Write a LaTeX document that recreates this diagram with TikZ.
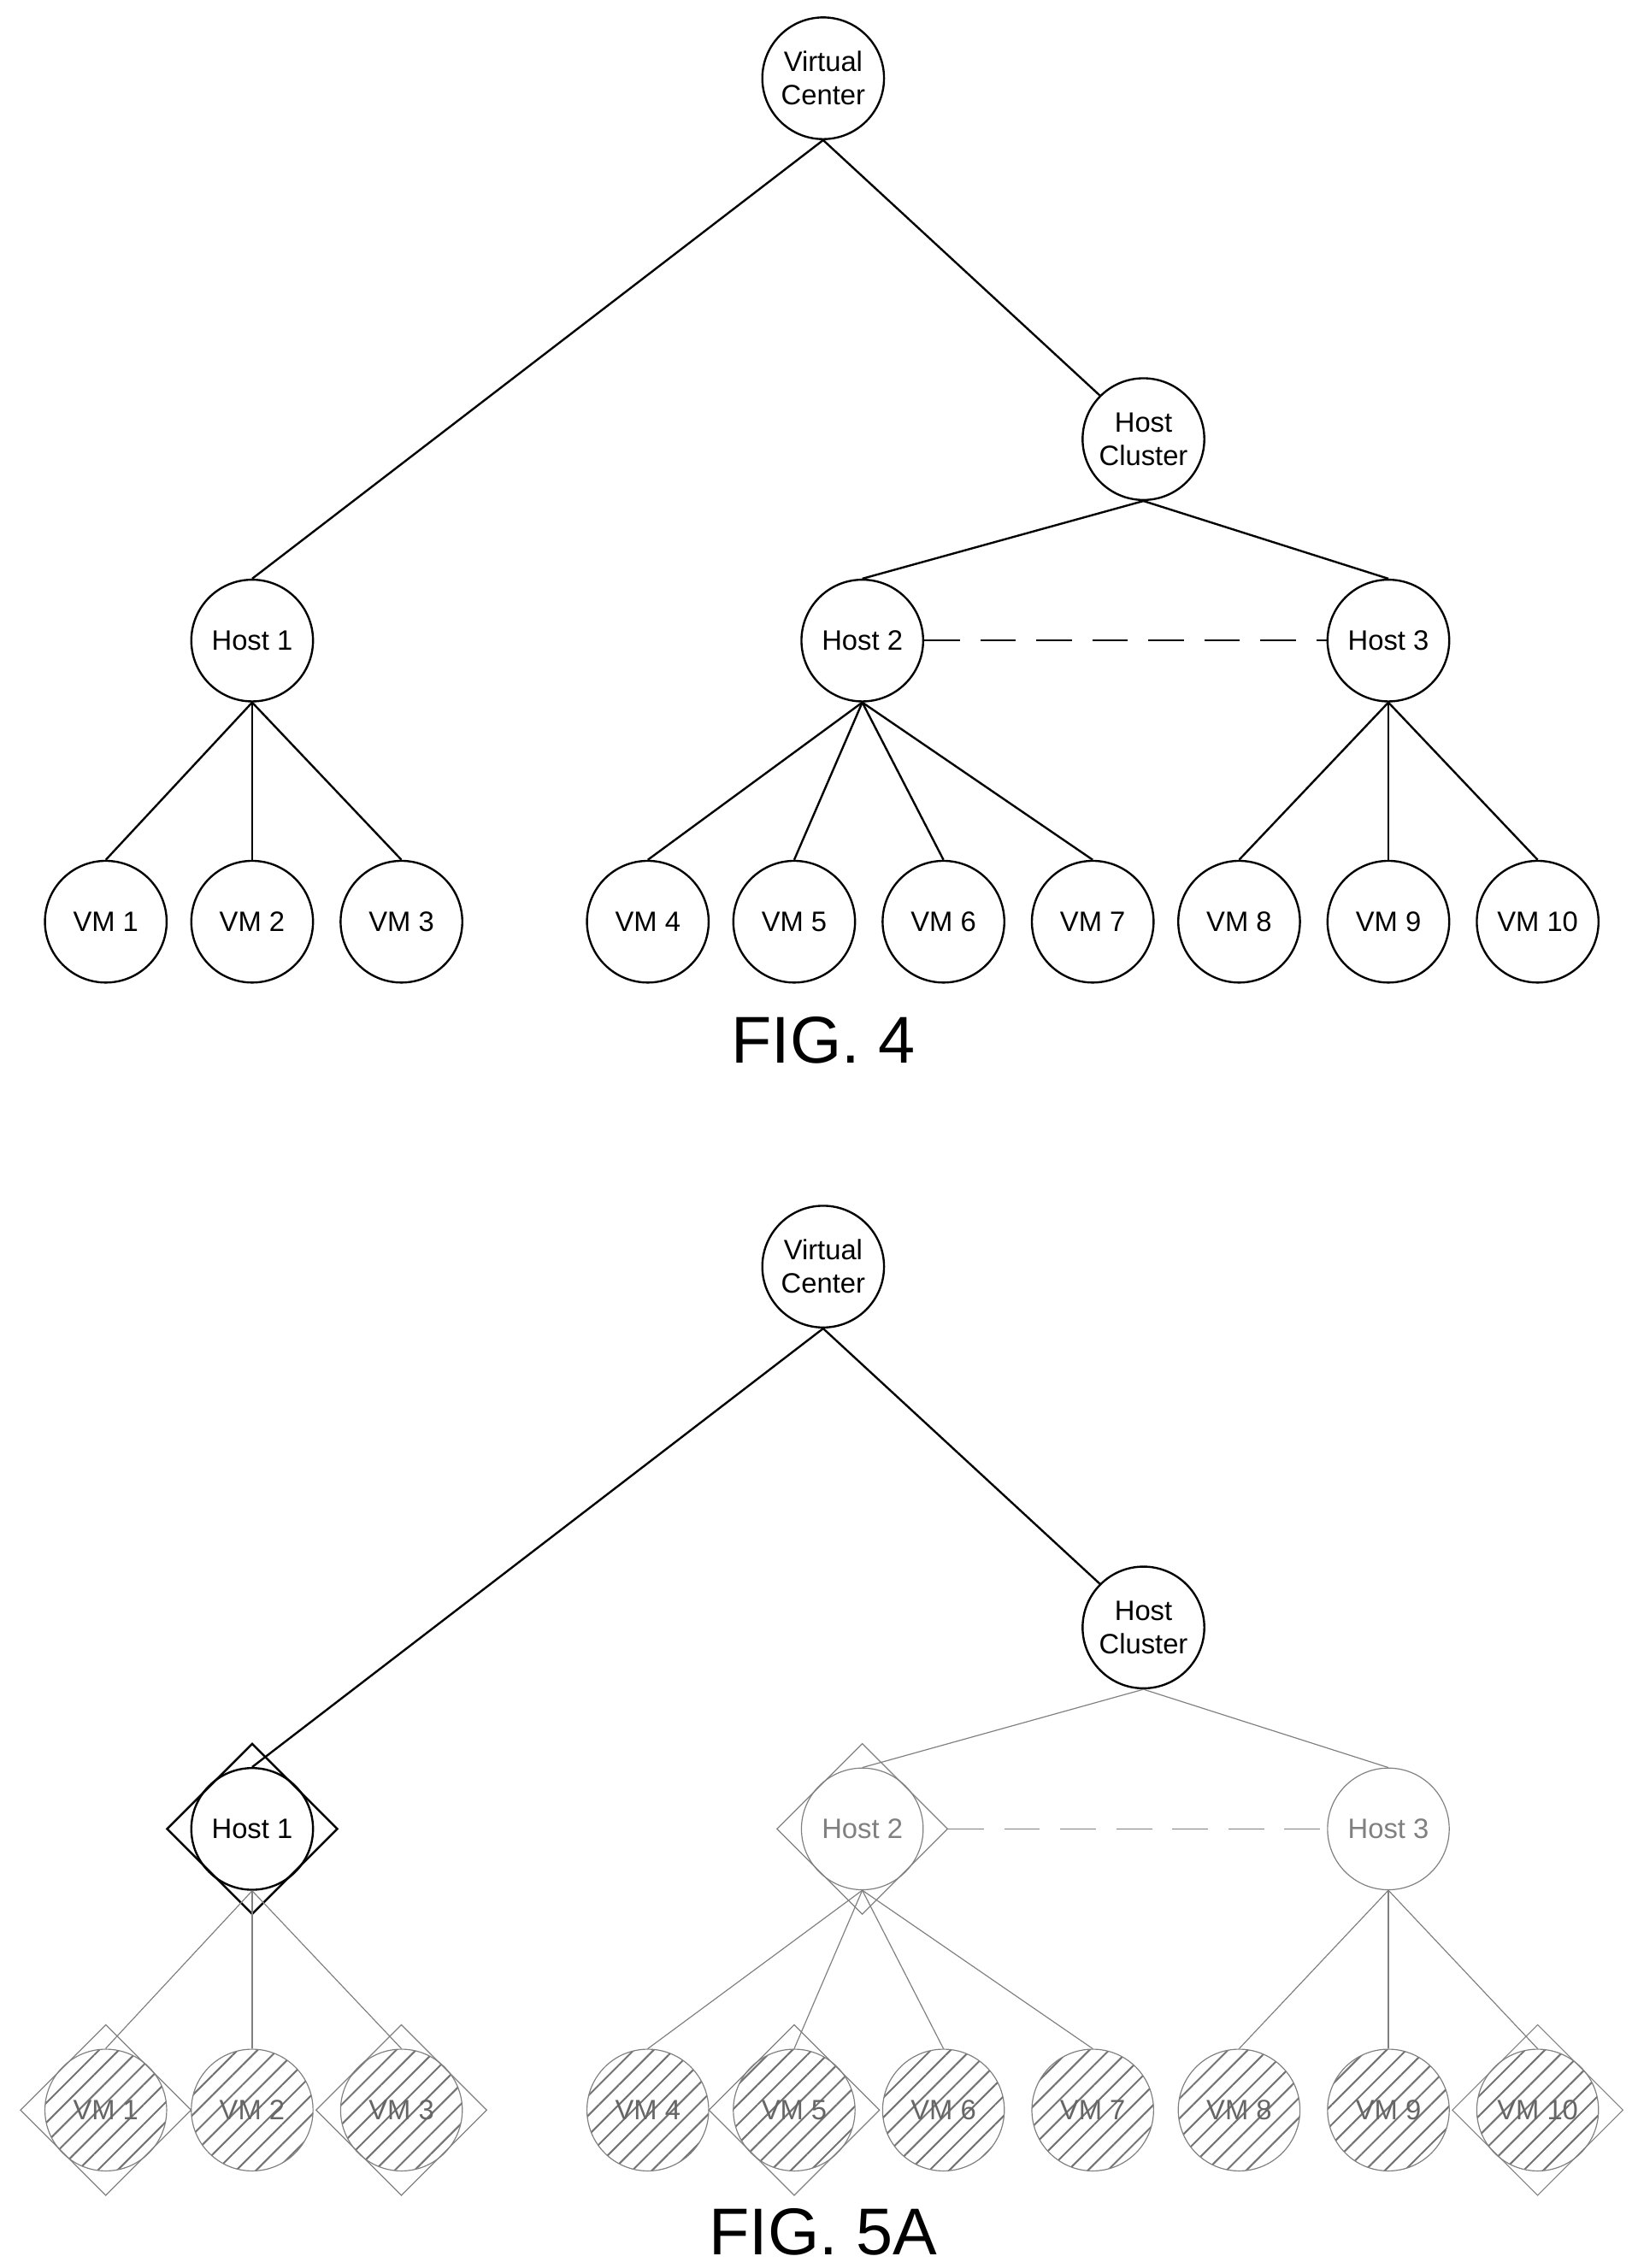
\documentclass[tikz,border=0pt]{standalone}
\usepackage{fontspec}
\setmainfont{Liberation Sans}
\usetikzlibrary{positioning,patterns.meta,shapes.geometric}
\begin{document}
\begin{tikzpicture}[x=0.02cm, y=-0.02cm,
    vnode/.style={circle, draw, thick, minimum size=1.68cm, inner sep=0pt, align=center, font=\fontsize{11}{13}\selectfont},
    faded/.style={vnode, draw=gray, text=gray, thin},
    hatched/.style={faded, pattern={Lines[angle=45, distance=5.5pt, line width=0.7pt]}, pattern color=black!55, text=black!60},
    selbox/.style={diamond, draw=gray, minimum size=2.36cm, inner sep=0pt},
    link/.style={thick},
    glink/.style={gray}]
  \useasboundingbox (0,0) rectangle (1130,1565);

  % FIG. 4
  \node[vnode] (vc) at (568,54) {Virtual\\Center};
  \node[vnode] (hc) at (789,303) {Host\\Cluster};
  \node[vnode] (h1) at (174,442) {Host 1};
  \node[vnode] (h2) at (595,442) {Host 2};
  \node[vnode] (h3) at (958,442) {Host 3};
  \foreach \n/\x in {1/73,2/174,3/277,4/447,5/548,6/651,7/754,8/855,9/958,10/1061}
    \node[vnode] (vm\n) at (\x,636) {VM \n};
  \draw[link] (vc.south) -- (h1.north);
  \draw[link] (vc.south) -- (hc.north west);
  \draw[link] (hc.south) -- (h2.north);
  \draw[link] (hc.south) -- (h3.north);
  \draw[link, dash pattern=on 14pt off 8pt] (h2.east) -- (h3.west);
  \foreach \n in {1,2,3} \draw[link] (h1.south) -- (vm\n.north);
  \foreach \n in {4,5,6,7} \draw[link] (h2.south) -- (vm\n.north);
  \foreach \n in {8,9,10} \draw[link] (h3.south) -- (vm\n.north);
  \node[font=\fontsize{26}{30}\selectfont] (fig4) at (568,718) {FIG. 4};

  % FIG. 5A
  \node[vnode] (vcb) at (568,874) {Virtual\\Center};
  \node[vnode] (hcb) at (789,1123) {Host\\Cluster};
  \node[vnode] (h1b) at (174,1262) {Host 1};
  \node[faded] (h2b) at (595,1262) {Host 2};
  \node[faded] (h3b) at (958,1262) {Host 3};
  \foreach \n/\x in {1/73,2/174,3/277,4/447,5/548,6/651,7/754,8/855,9/958,10/1061}
    \node[hatched] (vmb\n) at (\x,1456) {VM \n};
  \node[selbox, draw=black, thick] (d1) at (h1b) {};
  \node[selbox] (d2) at (h2b) {};
  \foreach \n in {1,3,5,10} \node[selbox] (dvm\n) at (vmb\n) {};
  \draw[link] (vcb.south) -- (h1b.north);
  \draw[link] (vcb.south) -- (hcb.north west);
  \draw[glink] (hcb.south) -- (h2b.north);
  \draw[glink] (hcb.south) -- (h3b.north);
  \draw[glink, dash pattern=on 14pt off 8pt] (d2.east) -- (h3b.west);
  \foreach \n in {1,2,3} \draw[glink] (h1b.south) -- (vmb\n.north);
  \foreach \n in {4,5,6,7} \draw[glink] (h2b.south) -- (vmb\n.north);
  \foreach \n in {8,9,10} \draw[glink] (h3b.south) -- (vmb\n.north);
  \node[font=\fontsize{26}{30}\selectfont] (fig5a) at (568,1540) {FIG. 5A};
\end{tikzpicture}
\end{document}
